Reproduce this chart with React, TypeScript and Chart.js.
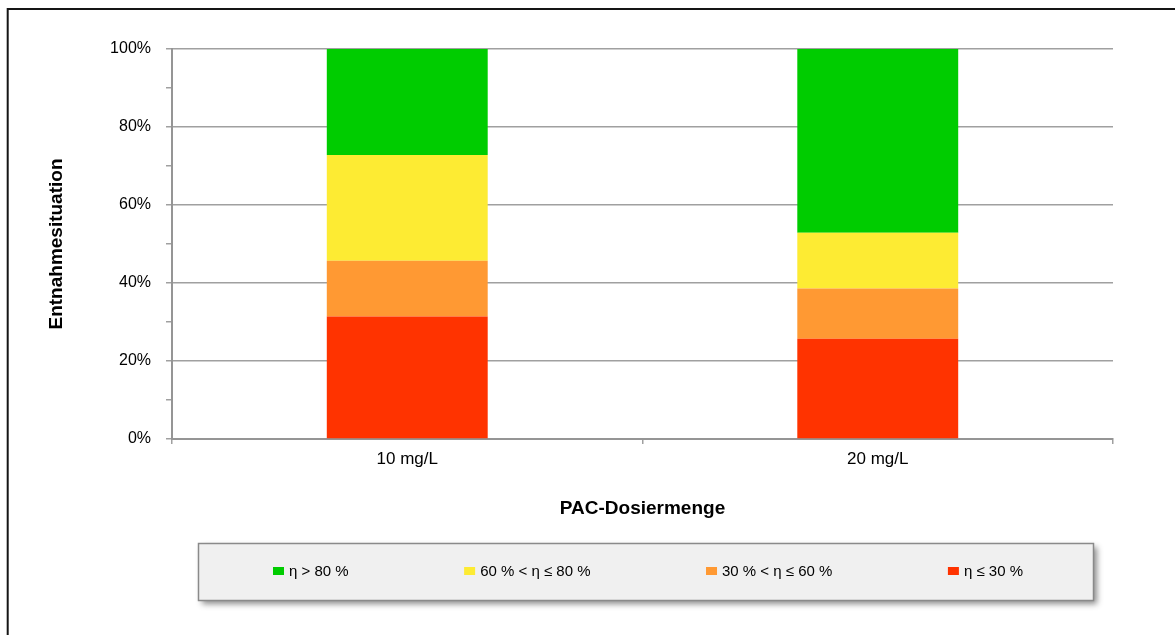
import React, { useEffect, useRef } from "react";
import { Chart, registerables } from "chart.js";

Chart.register(...registerables);

// ---- data ----
const categories = ["10 mg/L", "20 mg/L"];
const seriesLabels = ["η ≤ 30 %", "30 % < η ≤ 60 %", "60 % < η ≤ 80 %", "η > 80 %"];
const lowShare = [31.4, 25.7];
const midLowShare = [14.3, 12.9];
const midHighShare = [27.1, 14.3];
const highShare = [27.2, 47.1];
const seriesColors = ["#FF3300", "#FF9933", "#FDEB33", "#00CC00"];
const xTitle = "PAC-Dosiermenge";
const yTitle = "Entnahmesituation";

const FONT = '"Liberation Sans", Arial, Helvetica, sans-serif';
const gridColor = "#a0a0a0";
const axisColor = "#959595";

const frameAndLegend = {
  id: "frameAndLegend",
  afterDraw(chart: any) {
    const ctx = chart.ctx as CanvasRenderingContext2D;
    ctx.save();
    // outer frame
    ctx.strokeStyle = "#151515";
    ctx.lineWidth = 2;
    ctx.strokeRect(7.7, 9, 1400, 900);

    // legend box
    const bx = 198, by = 543, bw = 895, bh = 57;
    ctx.save();
    ctx.shadowColor = "rgba(0,0,0,0.45)";
    ctx.shadowBlur = 6;
    ctx.shadowOffsetX = 4;
    ctx.shadowOffsetY = 4;
    ctx.fillStyle = "#f0f0f0";
    ctx.fillRect(bx, by, bw, bh);
    ctx.restore();
    ctx.strokeStyle = "#8a8a8a";
    ctx.lineWidth = 1.5;
    ctx.strokeRect(bx + 0.5, by + 0.5, bw, bh);

    // legend items (reverse of stacking order)
    ctx.font = `15px ${FONT}`;
    ctx.textBaseline = "middle";
    ctx.textAlign = "left";
    const items = chart.data.datasets
      .map((d: any) => ({ text: d.label as string, color: d.backgroundColor as string }))
      .reverse();
    const sw = 11, sh = 8, gap = 5;
    const widths = items.map((it: any) => sw + gap + ctx.measureText(it.text).width);
    const start = 273, end = 1023;
    const total = widths.reduce((a: number, b: number) => a + b, 0);
    const spacing = (end - start - total) / (items.length - 1);
    const cy = 571;
    let x = start;
    items.forEach((it: any, i: number) => {
      ctx.fillStyle = it.color;
      ctx.fillRect(x, cy - sh / 2, sw, sh);
      ctx.fillStyle = "#000";
      ctx.fillText(it.text, x + sw + gap, cy + 0.5);
      x += widths[i] + spacing;
    });
    ctx.restore();
  },
};

export default function App() {
  const ref = useRef<HTMLCanvasElement>(null);

  useEffect(() => {
    if (!ref.current) return;
    Chart.defaults.font.family = FONT;
    const values = [lowShare, midLowShare, midHighShare, highShare];
    const chart = new Chart(ref.current, {
      type: "bar",
      data: {
        labels: categories,
        datasets: seriesLabels.map((label, i) => ({
          label,
          data: values[i],
          backgroundColor: seriesColors[i],
          borderWidth: 0,
          categoryPercentage: 1,
          barPercentage: 0.342,
        })),
      },
      options: {
        responsive: false,
        animation: false,
        devicePixelRatio: 1,
        layout: { padding: { left: 0, top: 49, right: 62, bottom: 96 } },
        plugins: {
          legend: { display: false },
          tooltip: { enabled: false },
        },
        scales: {
          x: {
            stacked: true,
            offset: true,
            grid: {
              offset: true,
              drawOnChartArea: true,
              color: (c: any) => (c.index === categories.length ? gridColor : "rgba(0,0,0,0)"),
              tickColor: gridColor,
              tickLength: 5,
              lineWidth: 1.5,
            },
            border: { color: axisColor, width: 2 },
            ticks: { color: "#000", font: { size: 17 }, padding: 5 },
            title: {
              display: true,
              text: xTitle,
              color: "#000",
              font: { size: 19, weight: "bold", lineHeight: 1.2 },
              padding: { top: 0, bottom: 18.6 },
            },
            afterFit: (s: any) => {
              s.height = 100;
            },
          },
          y: {
            stacked: true,
            min: 0,
            max: 100,
            ticks: {
              stepSize: 10,
              autoSkip: false,
              callback: (v: any) => (Number(v) % 20 === 0 ? `${v}%` : ""),
              padding: 15,
              color: "#000",
              font: { size: 16 },
            },
            grid: {
              color: (c: any) =>
                c.tick && Math.round(c.tick.value) % 20 === 0 ? gridColor : "rgba(0,0,0,0)",
              tickColor: gridColor,
              tickLength: 6,
              lineWidth: 1.5,
            },
            border: { color: axisColor, width: 2 },
            title: {
              display: true,
              text: yTitle,
              color: "#000",
              font: { size: 19, weight: "bold", lineHeight: 1.2 },
              padding: { top: 45, bottom: 0 },
            },
            afterFit: (s: any) => {
              s.width = 172;
            },
          },
        },
      },
      plugins: [frameAndLegend],
    } as any);
    return () => chart.destroy();
  }, []);

  return (
    <div style={{ position: "fixed", left: 0, top: 0, width: 1175, height: 635, background: "#fff" }}>
      <canvas ref={ref} width={1175} height={635} style={{ display: "block" }} />
    </div>
  );
}
